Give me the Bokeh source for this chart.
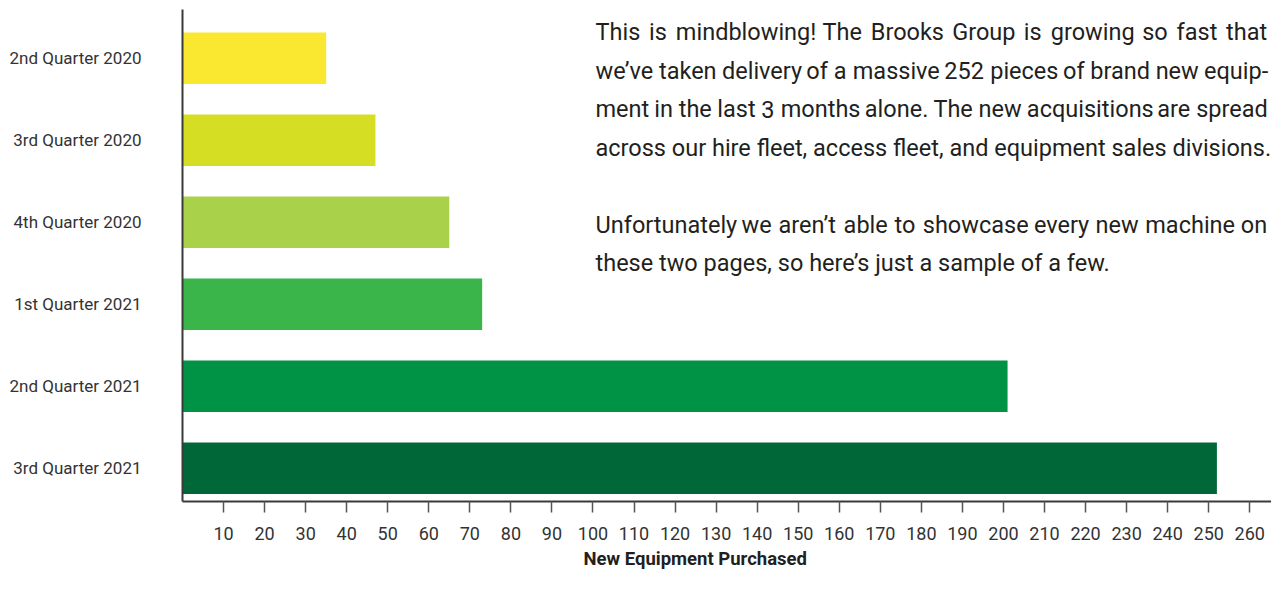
from bokeh.plotting import figure
from bokeh.models import Range1d, FixedTicker, ColumnDataSource, Title
from bokeh.embed import file_html
from bokeh.resources import INLINE
from bokeh.core.properties import value

# ---------------- data ----------------
quarters = ["2nd Quarter 2020", "3rd Quarter 2020", "4th Quarter 2020",
            "1st Quarter 2021", "2nd Quarter 2021", "3rd Quarter 2021"]
purchased = [35, 47, 65, 73, 201, 252]
bar_colors = ["#F9E82F", "#D6DE23", "#AAD14A", "#39B54A", "#009245", "#006838"]
x_ticks = list(range(10, 261, 10))
x_title = "New Equipment Purchased"
paragraph = [
    ("This is mindblowing! The Brooks Group is growing so fast that", True),
    ("we\u2019ve taken delivery of a massive 252 pieces of brand new equip-", True),
    ("ment in the last 3 months alone. The new acquisitions are spread", True),
    ("across our hire fleet, access fleet, and equipment sales divisions.", False),
    ("", False),
    ("Unfortunately we aren\u2019t able to showcase every new machine on", True),
    ("these two pages, so here\u2019s just a sample of a few.", False),
]

# ---------------- layout constants ----------------
W, H = 1271, 574
FL, FT, FB = 182, 9, 73          # frame borders (px)
X0, X1 = 0, 265.3
Y0, Y1 = -0.405, 5.595
FONT = "Roboto"

frame_w = W - FL
frame_h = H - FT - FB
xs = frame_w / (X1 - X0)
ys = frame_h / (Y1 - Y0)


def px2x(px):
    return X0 + (px - FL) / xs


def px2y(py):
    return Y1 - (py - FT) / ys


n = len(quarters)
pos = [n - 1 - i for i in range(n)]
src = ColumnDataSource(dict(pos=pos, val=purchased, color=bar_colors, name=quarters))

p = figure(width=W, height=H, output_backend="svg", toolbar_location=None,
           x_range=Range1d(X0, X1), y_range=Range1d(Y0, Y1),
           min_border_left=FL, min_border_right=0, min_border_top=FT,
           min_border_bottom=FB, background_fill_color="white",
           border_fill_color="white", outline_line_color=None)
p.grid.visible = False

p.hbar(y="pos", left=0, right="val", height=0.63, color="color",
       line_color=None, source=src)

# x axis
xa = p.xaxis[0]
xa.ticker = FixedTicker(ticks=x_ticks)
xa.minor_tick_line_color = None
xa.major_tick_in = 0
xa.major_tick_out = 11
xa.major_tick_line_color = "#555555"
xa.major_tick_line_width = 1.5
xa.axis_line_color = "#3a3a3a"
xa.axis_line_width = 2
xa.major_label_text_font = FONT
xa.major_label_text_font_size = "18px"
xa.major_label_text_color = "#333333"
xa.major_label_standoff = 14

# y axis: category names
ya = p.yaxis[0]
ya.ticker = FixedTicker(ticks=pos)
ya.major_label_overrides = {k: v for k, v in zip(pos, quarters)}
ya.major_tick_in = 0
ya.major_tick_out = 0
ya.major_tick_line_color = None
ya.minor_tick_line_color = None
ya.major_label_text_font = FONT
ya.major_label_text_font_size = "17px"
ya.major_label_text_color = "#333333"
ya.major_label_standoff = 41
ya.axis_line_color = "#3a3a3a"
ya.axis_line_width = 2

# x axis title (below, left-aligned with offset)
p.add_layout(Title(text=x_title, align="left", offset=401, standoff=6,
                   text_font=FONT, text_font_size="18.5px",
                   text_font_style="bold", text_color="#231f20"), "below")

# paragraph (justified lines)
ROBOTO = {' ': .2476, '!': .257, ',': .192, '.': .257, '-': .27, '\u2019': .195,
          'T': .598, 'B': .621, 'G': .673, 'U': .65,
          'a': .544, 'b': .548, 'c': .51, 'd': .551, 'e': .517, 'f': .339,
          'g': .548, 'h': .538, 'i': .237, 'j': .233, 'k': .495, 'l': .237,
          'm': .855, 'n': .539, 'o': .557, 'p': .548, 'q': .552, 'r': .331,
          's': .503, 't': .319, 'u': .538, 'v': .473, 'w': .733, 'x': .484,
          'y': .462, 'z': .48}
PFS = 23.5


def tw(s):
    return sum(ROBOTO.get(c, .5615) for c in s) * PFS


para_left = 595
para_right = 1266
baseline0 = 31.7
line_gap = 38.5
wx, wy, wt = [], [], []
for i, (line, just) in enumerate(paragraph):
    if not line:
        continue
    by = baseline0 + i * line_gap
    words = line.split(" ")
    if just and len(words) > 1:
        total = sum(tw(w) for w in words)
        gap = (para_right - para_left - total) / (len(words) - 1)
        cx = para_left
        for w in words:
            wx.append(px2x(cx)); wy.append(px2y(by)); wt.append(w)
            cx += tw(w) + gap
    else:
        wx.append(px2x(para_left)); wy.append(px2y(by)); wt.append(line)

psrc = ColumnDataSource(dict(x=wx, y=wy, t=wt))
p.text(x="x", y="y", text="t", source=psrc, text_font=value(FONT),
       text_font_size=f"{PFS}px", text_color="#231f20", text_align="left",
       text_baseline="alphabetic")

open("out.html", "w").write(file_html(p, INLINE))
